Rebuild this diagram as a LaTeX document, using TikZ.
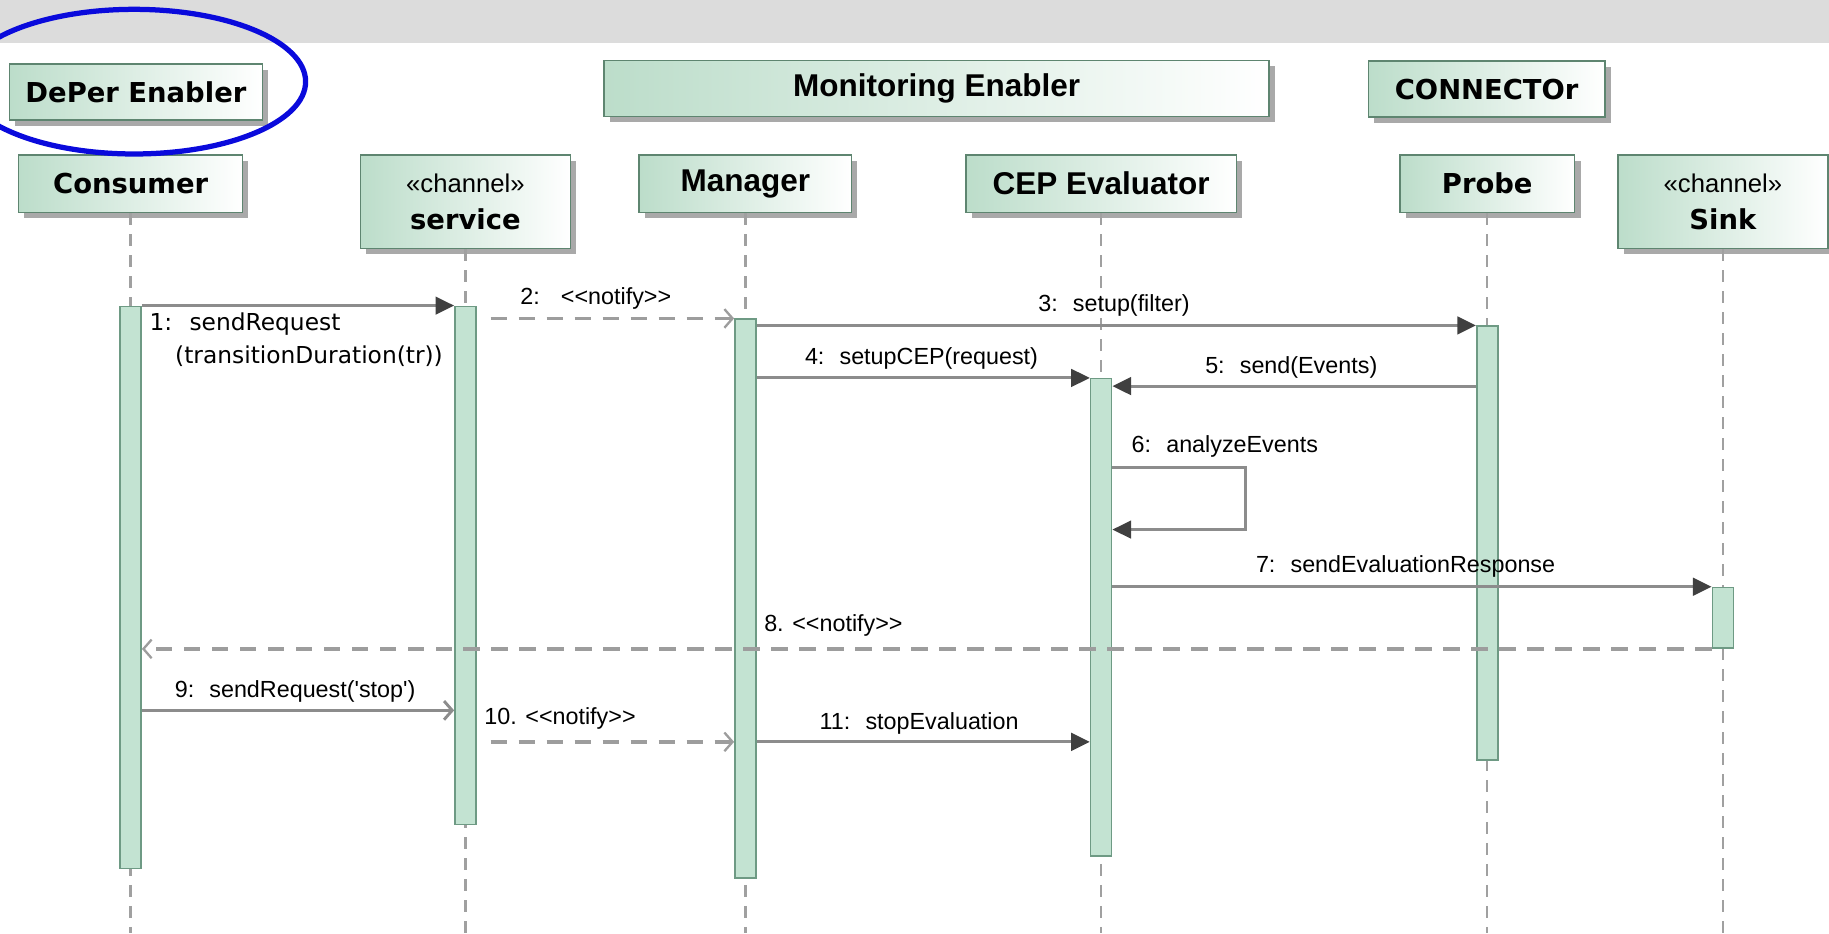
\documentclass[tikz,border=0pt]{standalone}
\usepackage{fontspec}
\usepackage{tikz}
\usetikzlibrary{arrows.meta,shadows}

\newfontfamily\headfont{DejaVu Sans}
\newfontfamily\headfontalt{Liberation Sans}
\newfontfamily\msgfont{Liberation Sans}
\newfontfamily\msgfontalt{DejaVu Sans}
\newcommand\chanfont{\msgfont\mdseries\fontsize{22}{26}\selectfont}

\definecolor{band}{HTML}{DCDCDC}
\definecolor{headline}{HTML}{5E8570}
\definecolor{headfill}{HTML}{BCDDCA}
\definecolor{shadowgray}{HTML}{A9A9A9}
\definecolor{actfill}{HTML}{C3E3D2}
\definecolor{actline}{HTML}{6E9A84}
\definecolor{lifegray}{HTML}{A0A0A0}
\definecolor{msggray}{HTML}{8C8C8C}
\definecolor{tipgray}{HTML}{404040}
\definecolor{ringblue}{HTML}{0A0ADC}

\tikzset{
  head/.style={draw=headline,line width=1.3pt,left color=headfill,right color=white,
    drop shadow={shadow xshift=5pt,shadow yshift=-5pt,fill=shadowgray,opacity=1},
    inner sep=0pt,minimum height=48,align=center,
    font=\headfont\bfseries\fontsize{23.5}{32}\selectfont},
  headalt/.style={head,font=\headfontalt\bfseries\fontsize{27}{32}\selectfont},
  act/.style={draw=actline,fill=actfill,line width=1.3pt,minimum width=18,inner sep=0pt,anchor=north},
  life/.style={draw=lifegray,line width=2pt,dash pattern=on 10pt off 8pt},
  msg/.style={draw=msggray,line width=2.5pt,-{Triangle[length=16pt,width=15pt,color=tipgray]}},
  call/.style={draw=msggray,line width=2.5pt,-{Straight Barb[length=7pt,width=16pt]}},
  reply/.style={draw=msggray!85,line width=3pt,dash pattern=on 14pt off 10pt,
    -{Straight Barb[length=7pt,width=16pt,line width=2pt]}},
  lbl/.style={font=\msgfont\fontsize{20}{23}\selectfont,inner sep=0pt},
  lblalt/.style={font=\msgfontalt\fontsize{20}{23}\selectfont,inner sep=0pt,anchor=west}
}

\begin{document}
\begin{tikzpicture}[x=1pt,y=-1pt]
\useasboundingbox (0,0) rectangle (1568,800);
\fill[band] (0,0) rectangle (1568,37);

% groups
\node[head,minimum width=217] (deper) at (116.5,79) {DePer Enabler};
\node[headalt,minimum width=570] (monit) at (803,76) {Monitoring Enabler};
\node[head,minimum width=203] (connr) at (1274.5,76.5) {CONNECTOr};

% lifeline heads
\node[head,minimum width=192,minimum height=49] (cons) at (112,157.5) {Consumer};
\node[head,minimum width=180,minimum height=80] (serv) at (399,173) {{\chanfont «channel»}\\ service};
\node[headalt,minimum width=182,minimum height=49] (man) at (639,157.5) {Manager};
\node[headalt,minimum width=232,minimum height=49] (cep) at (944,157.5) {CEP Evaluator};
\node[head,minimum width=150,minimum height=49] (probe) at (1275,157.5) {Probe};
\node[head,minimum width=180,minimum height=80] (sink) at (1477,173) {{\chanfont «channel»}\\ Sink};

\foreach \n in {cons,serv,man,cep,probe,sink}
  \draw[life] (\n.south) -- (\n.south |- 0,800);

% activations
\node[act,minimum height=482] (aCons) at (cons.south |- 0,262) {};
\node[act,minimum height=444] (aServ) at (serv.south |- 0,262) {};
\node[act,minimum height=479] (aMan) at (man.south |- 0,273) {};
\node[act,minimum height=409] (aCEP) at (cep.south |- 0,324) {};
\node[act,minimum height=372] (aProbe) at (probe.south |- 0,279) {};
\node[act,minimum height=52] (aSink) at (sink.south |- 0,503) {};

\coordinate (r5) at (0,331);
\coordinate (loop6) at (1068,401);
\coordinate (back6) at (1068,454);
\coordinate (r9) at (0,609);
\coordinate (r11) at (0,636);

% messages
\draw[msg] (aCons.north east) -- (aServ.north west);
\draw[reply,shorten <=12pt] (aServ.east |- aMan.north) -- (aMan.north west);
\draw[msg] (aMan.east |- aProbe.north) -- (aProbe.north west);
\draw[msg] (aMan.east |- aCEP.north) -- (aCEP.north west);
\draw[msg] (aProbe.west |- r5) -- (aCEP.east |- r5);
\draw[msg] (aCEP.east |- loop6) -- (loop6) -- (back6) -- (aCEP.east |- back6);
\draw[msg] (aCEP.east |- aSink.north) -- (aSink.north west);
\draw[reply] (aSink.south west) -- (aCons.east |- aSink.south);
\draw[call] (aCons.east |- r9) -- (aServ.west |- r9);
\draw[reply,shorten <=12pt] (aServ.east |- r11) -- (aMan.west |- r11);
\draw[msg] (aMan.east |- r11) -- (aCEP.west |- r11);

\node[lblalt] (l1) at (128,278) {1:~ sendRequest};
\node[lblalt] (l1b) at (150,305) {(transitionDuration(tr))};
\node[lbl,anchor=west] (l2) at (446,256) {2:\hspace{18pt}<<notify>>};
\node[lbl] (l3) at (955,262) {3:~ setup(filter)};
\node[lbl] (l4) at (790,307) {4:~ setupCEP(request)};
\node[lbl] (l5) at (1107,315) {5:~ send(Events)};
\node[lbl,anchor=west] (l6) at (970,383) {6:~ analyzeEvents};
\node[lbl] (l7) at (1205,486) {7:~ sendEvaluationResponse};
\node[lbl,anchor=west] (l8) at (655,536) {8. <<notify>>};
\node[lbl] (l9) at (253,593) {9:~ sendRequest('stop')};
\node[lbl,anchor=west] (l10) at (415,616) {10. <<notify>>};
\node[lbl] (l11) at (788,620) {11:~ stopEvaluation};

\draw[ringblue,line width=4.5pt] (115,70) ellipse [x radius=147,y radius=62];
\end{tikzpicture}
\end{document}
